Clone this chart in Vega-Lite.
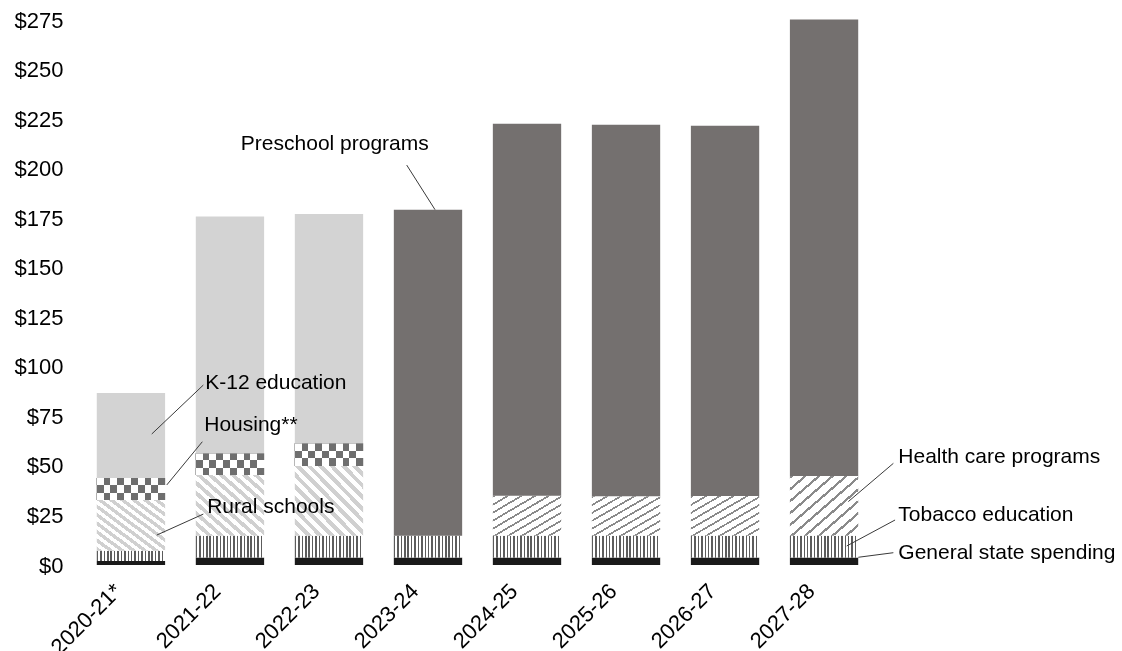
{
  "$schema": "https://vega.github.io/schema/vega-lite/v6.json",
  "width": 805,
  "height": 545,
  "autosize": "none",
  "padding": {"left": 75, "top": 20, "right": 242, "bottom": 86},
  "background": "white",
  "config": {
    "view": {"stroke": null},
    "axis": {
      "domain": false,
      "ticks": false,
      "grid": false,
      "labelFont": "Liberation Sans",
      "labelFontSize": 22,
      "labelColor": "#000000"
    }
  },
  "datasets": {
    "order": [
      {"category": "General state spending", "rank": 1},
      {"category": "Tobacco education", "rank": 2},
      {"category": "Rural schools", "rank": 3},
      {"category": "Health care programs", "rank": 4},
      {"category": "Housing", "rank": 5},
      {"category": "K-12 education", "rank": 6},
      {"category": "Preschool programs", "rank": 7}
    ]
  },
  "layer": [
    {
      "data": {
        "values": [
          {"year": "2020-21*", "category": "General state spending", "value": 2.0},
          {"year": "2020-21*", "category": "Tobacco education", "value": 5.2},
          {"year": "2020-21*", "category": "Rural schools", "value": 25.6},
          {"year": "2020-21*", "category": "Housing", "value": 11.1},
          {"year": "2020-21*", "category": "K-12 education", "value": 42.9},
          {"year": "2021-22", "category": "General state spending", "value": 3.8},
          {"year": "2021-22", "category": "Tobacco education", "value": 11.0},
          {"year": "2021-22", "category": "Rural schools", "value": 30.6},
          {"year": "2021-22", "category": "Housing", "value": 11.0},
          {"year": "2021-22", "category": "K-12 education", "value": 119.4},
          {"year": "2022-23", "category": "General state spending", "value": 3.8},
          {"year": "2022-23", "category": "Tobacco education", "value": 11.0},
          {"year": "2022-23", "category": "Rural schools", "value": 35.2},
          {"year": "2022-23", "category": "Housing", "value": 11.4},
          {"year": "2022-23", "category": "K-12 education", "value": 115.7},
          {"year": "2023-24", "category": "General state spending", "value": 3.8},
          {"year": "2023-24", "category": "Tobacco education", "value": 11.0},
          {"year": "2023-24", "category": "Preschool programs", "value": 164.5},
          {"year": "2024-25", "category": "General state spending", "value": 3.8},
          {"year": "2024-25", "category": "Tobacco education", "value": 11.0},
          {"year": "2024-25", "category": "Health care programs", "value": 20.2},
          {"year": "2024-25", "category": "Preschool programs", "value": 187.7},
          {"year": "2025-26", "category": "General state spending", "value": 3.8},
          {"year": "2025-26", "category": "Tobacco education", "value": 11.0},
          {"year": "2025-26", "category": "Health care programs", "value": 19.9},
          {"year": "2025-26", "category": "Preschool programs", "value": 187.5},
          {"year": "2026-27", "category": "General state spending", "value": 3.8},
          {"year": "2026-27", "category": "Tobacco education", "value": 11.0},
          {"year": "2026-27", "category": "Health care programs", "value": 20.0},
          {"year": "2026-27", "category": "Preschool programs", "value": 186.9},
          {"year": "2027-28", "category": "General state spending", "value": 3.8},
          {"year": "2027-28", "category": "Tobacco education", "value": 11.0},
          {"year": "2027-28", "category": "Health care programs", "value": 30.1},
          {"year": "2027-28", "category": "Preschool programs", "value": 230.3}
        ]
      },
      "transform": [
        {"lookup": "category", "from": {"data": {"name": "order"}, "key": "category", "fields": ["rank"]}},
        {"stack": "value", "groupby": ["year"], "sort": [{"field": "rank", "order": "ascending"}], "as": ["v0", "v1"]}
      ],
      "encoding": {
        "x": {
          "field": "year",
          "type": "nominal",
          "sort": null,
          "title": null,
          "scale": {
            "domain": ["2020-21*", "2021-22", "2022-23", "2023-24", "2024-25", "2025-26", "2026-27", "2027-28"],
            "paddingInner": 0.31,
            "paddingOuter": 0.22
          },
          "axis": {"labelAngle": -45, "labelPadding": 15, "labelOffset": -20}
        },
        "y": {
          "field": "v1",
          "type": "quantitative",
          "title": null,
          "scale": {"domain": [0, 275], "nice": false, "zero": true},
          "axis": {"values": [0, 25, 50, 75, 100, 125, 150, 175, 200, 225, 250, 275], "format": "$.0f", "labelPadding": 12}
        },
        "y2": {"field": "v0"}
      },
      "layer": [
        {
          "transform": [{"filter": {"field": "category", "equal": "General state spending"}}],
          "mark": {"type": "bar", "color": "#1a1a1a"}
        },
        {
          "transform": [{"filter": {"field": "category", "equal": "Tobacco education"}}],
          "mark": {
            "type": "bar",
            "color": {
              "gradient": "linear", "x1": 0, "y1": 0, "x2": 1, "y2": 0,
              "stops": [
                {"offset": 0, "color": "#5c5c5c"}, {"offset": 0.022, "color": "#5c5c5c"}, {"offset": 0.022, "color": "#ffffff"}, {"offset": 0.05, "color": "#ffffff"},
                {"offset": 0.05, "color": "#5c5c5c"}, {"offset": 0.072, "color": "#5c5c5c"}, {"offset": 0.072, "color": "#ffffff"}, {"offset": 0.1, "color": "#ffffff"},
                {"offset": 0.1, "color": "#5c5c5c"}, {"offset": 0.122, "color": "#5c5c5c"}, {"offset": 0.122, "color": "#ffffff"}, {"offset": 0.15, "color": "#ffffff"},
                {"offset": 0.15, "color": "#5c5c5c"}, {"offset": 0.172, "color": "#5c5c5c"}, {"offset": 0.172, "color": "#ffffff"}, {"offset": 0.2, "color": "#ffffff"},
                {"offset": 0.2, "color": "#5c5c5c"}, {"offset": 0.222, "color": "#5c5c5c"}, {"offset": 0.222, "color": "#ffffff"}, {"offset": 0.25, "color": "#ffffff"},
                {"offset": 0.25, "color": "#5c5c5c"}, {"offset": 0.272, "color": "#5c5c5c"}, {"offset": 0.272, "color": "#ffffff"}, {"offset": 0.3, "color": "#ffffff"},
                {"offset": 0.3, "color": "#5c5c5c"}, {"offset": 0.322, "color": "#5c5c5c"}, {"offset": 0.322, "color": "#ffffff"}, {"offset": 0.35, "color": "#ffffff"},
                {"offset": 0.35, "color": "#5c5c5c"}, {"offset": 0.372, "color": "#5c5c5c"}, {"offset": 0.372, "color": "#ffffff"}, {"offset": 0.4, "color": "#ffffff"},
                {"offset": 0.4, "color": "#5c5c5c"}, {"offset": 0.422, "color": "#5c5c5c"}, {"offset": 0.422, "color": "#ffffff"}, {"offset": 0.45, "color": "#ffffff"},
                {"offset": 0.45, "color": "#5c5c5c"}, {"offset": 0.472, "color": "#5c5c5c"}, {"offset": 0.472, "color": "#ffffff"}, {"offset": 0.5, "color": "#ffffff"},
                {"offset": 0.5, "color": "#5c5c5c"}, {"offset": 0.522, "color": "#5c5c5c"}, {"offset": 0.522, "color": "#ffffff"}, {"offset": 0.55, "color": "#ffffff"},
                {"offset": 0.55, "color": "#5c5c5c"}, {"offset": 0.572, "color": "#5c5c5c"}, {"offset": 0.572, "color": "#ffffff"}, {"offset": 0.6, "color": "#ffffff"},
                {"offset": 0.6, "color": "#5c5c5c"}, {"offset": 0.622, "color": "#5c5c5c"}, {"offset": 0.622, "color": "#ffffff"}, {"offset": 0.65, "color": "#ffffff"},
                {"offset": 0.65, "color": "#5c5c5c"}, {"offset": 0.672, "color": "#5c5c5c"}, {"offset": 0.672, "color": "#ffffff"}, {"offset": 0.7, "color": "#ffffff"},
                {"offset": 0.7, "color": "#5c5c5c"}, {"offset": 0.722, "color": "#5c5c5c"}, {"offset": 0.722, "color": "#ffffff"}, {"offset": 0.75, "color": "#ffffff"},
                {"offset": 0.75, "color": "#5c5c5c"}, {"offset": 0.772, "color": "#5c5c5c"}, {"offset": 0.772, "color": "#ffffff"}, {"offset": 0.8, "color": "#ffffff"},
                {"offset": 0.8, "color": "#5c5c5c"}, {"offset": 0.822, "color": "#5c5c5c"}, {"offset": 0.822, "color": "#ffffff"}, {"offset": 0.85, "color": "#ffffff"},
                {"offset": 0.85, "color": "#5c5c5c"}, {"offset": 0.872, "color": "#5c5c5c"}, {"offset": 0.872, "color": "#ffffff"}, {"offset": 0.9, "color": "#ffffff"},
                {"offset": 0.9, "color": "#5c5c5c"}, {"offset": 0.922, "color": "#5c5c5c"}, {"offset": 0.922, "color": "#ffffff"}, {"offset": 0.95, "color": "#ffffff"},
                {"offset": 0.95, "color": "#5c5c5c"}, {"offset": 0.972, "color": "#5c5c5c"}, {"offset": 0.972, "color": "#ffffff"}, {"offset": 1, "color": "#ffffff"}
              ]
            }
          }
        },
        {
          "transform": [{"filter": {"field": "category", "equal": "Rural schools"}}],
          "mark": {
            "type": "bar",
            "color": {
              "gradient": "linear", "x1": 0, "y1": 1, "x2": 1, "y2": 0,
              "stops": [
                {"offset": 0, "color": "#d0d0d0"}, {"offset": 0.0417, "color": "#d0d0d0"}, {"offset": 0.0417, "color": "#ffffff"}, {"offset": 0.0833, "color": "#ffffff"},
                {"offset": 0.0833, "color": "#d0d0d0"}, {"offset": 0.125, "color": "#d0d0d0"}, {"offset": 0.125, "color": "#ffffff"}, {"offset": 0.1667, "color": "#ffffff"},
                {"offset": 0.1667, "color": "#d0d0d0"}, {"offset": 0.2083, "color": "#d0d0d0"}, {"offset": 0.2083, "color": "#ffffff"}, {"offset": 0.25, "color": "#ffffff"},
                {"offset": 0.25, "color": "#d0d0d0"}, {"offset": 0.2917, "color": "#d0d0d0"}, {"offset": 0.2917, "color": "#ffffff"}, {"offset": 0.3333, "color": "#ffffff"},
                {"offset": 0.3333, "color": "#d0d0d0"}, {"offset": 0.375, "color": "#d0d0d0"}, {"offset": 0.375, "color": "#ffffff"}, {"offset": 0.4167, "color": "#ffffff"},
                {"offset": 0.4167, "color": "#d0d0d0"}, {"offset": 0.4583, "color": "#d0d0d0"}, {"offset": 0.4583, "color": "#ffffff"}, {"offset": 0.5, "color": "#ffffff"},
                {"offset": 0.5, "color": "#d0d0d0"}, {"offset": 0.5417, "color": "#d0d0d0"}, {"offset": 0.5417, "color": "#ffffff"}, {"offset": 0.5833, "color": "#ffffff"},
                {"offset": 0.5833, "color": "#d0d0d0"}, {"offset": 0.625, "color": "#d0d0d0"}, {"offset": 0.625, "color": "#ffffff"}, {"offset": 0.6667, "color": "#ffffff"},
                {"offset": 0.6667, "color": "#d0d0d0"}, {"offset": 0.7083, "color": "#d0d0d0"}, {"offset": 0.7083, "color": "#ffffff"}, {"offset": 0.75, "color": "#ffffff"},
                {"offset": 0.75, "color": "#d0d0d0"}, {"offset": 0.7917, "color": "#d0d0d0"}, {"offset": 0.7917, "color": "#ffffff"}, {"offset": 0.8333, "color": "#ffffff"},
                {"offset": 0.8333, "color": "#d0d0d0"}, {"offset": 0.875, "color": "#d0d0d0"}, {"offset": 0.875, "color": "#ffffff"}, {"offset": 0.9167, "color": "#ffffff"},
                {"offset": 0.9167, "color": "#d0d0d0"}, {"offset": 0.9583, "color": "#d0d0d0"}, {"offset": 0.9583, "color": "#ffffff"}, {"offset": 1, "color": "#ffffff"}
              ]
            }
          }
        },
        {
          "transform": [{"filter": {"field": "category", "equal": "Health care programs"}}],
          "mark": {
            "type": "bar",
            "color": {
              "gradient": "linear", "x1": 0, "y1": 0, "x2": 1, "y2": 1,
              "stops": [
                {"offset": 0, "color": "#8a8a8a"}, {"offset": 0.025, "color": "#8a8a8a"}, {"offset": 0.025, "color": "#ffffff"}, {"offset": 0.1, "color": "#ffffff"},
                {"offset": 0.1, "color": "#8a8a8a"}, {"offset": 0.125, "color": "#8a8a8a"}, {"offset": 0.125, "color": "#ffffff"}, {"offset": 0.2, "color": "#ffffff"},
                {"offset": 0.2, "color": "#8a8a8a"}, {"offset": 0.225, "color": "#8a8a8a"}, {"offset": 0.225, "color": "#ffffff"}, {"offset": 0.3, "color": "#ffffff"},
                {"offset": 0.3, "color": "#8a8a8a"}, {"offset": 0.325, "color": "#8a8a8a"}, {"offset": 0.325, "color": "#ffffff"}, {"offset": 0.4, "color": "#ffffff"},
                {"offset": 0.4, "color": "#8a8a8a"}, {"offset": 0.425, "color": "#8a8a8a"}, {"offset": 0.425, "color": "#ffffff"}, {"offset": 0.5, "color": "#ffffff"},
                {"offset": 0.5, "color": "#8a8a8a"}, {"offset": 0.525, "color": "#8a8a8a"}, {"offset": 0.525, "color": "#ffffff"}, {"offset": 0.6, "color": "#ffffff"},
                {"offset": 0.6, "color": "#8a8a8a"}, {"offset": 0.625, "color": "#8a8a8a"}, {"offset": 0.625, "color": "#ffffff"}, {"offset": 0.7, "color": "#ffffff"},
                {"offset": 0.7, "color": "#8a8a8a"}, {"offset": 0.725, "color": "#8a8a8a"}, {"offset": 0.725, "color": "#ffffff"}, {"offset": 0.8, "color": "#ffffff"},
                {"offset": 0.8, "color": "#8a8a8a"}, {"offset": 0.825, "color": "#8a8a8a"}, {"offset": 0.825, "color": "#ffffff"}, {"offset": 0.9, "color": "#ffffff"},
                {"offset": 0.9, "color": "#8a8a8a"}, {"offset": 0.925, "color": "#8a8a8a"}, {"offset": 0.925, "color": "#ffffff"}, {"offset": 1, "color": "#ffffff"}
              ]
            }
          }
        },
        {
          "transform": [{"filter": {"field": "category", "equal": "Housing"}}],
          "mark": {
            "type": "bar",
            "color": {
              "gradient": "linear", "x1": 0, "y1": 0, "x2": 1, "y2": 0,
              "stops": [
                {"offset": 0, "color": "#000000"}, {"offset": 0.1, "color": "#000000"}, {"offset": 0.1, "color": "#ffffff"}, {"offset": 0.2, "color": "#ffffff"},
                {"offset": 0.2, "color": "#000000"}, {"offset": 0.3, "color": "#000000"}, {"offset": 0.3, "color": "#ffffff"}, {"offset": 0.4, "color": "#ffffff"},
                {"offset": 0.4, "color": "#000000"}, {"offset": 0.5, "color": "#000000"}, {"offset": 0.5, "color": "#ffffff"}, {"offset": 0.6, "color": "#ffffff"},
                {"offset": 0.6, "color": "#000000"}, {"offset": 0.7, "color": "#000000"}, {"offset": 0.7, "color": "#ffffff"}, {"offset": 0.8, "color": "#ffffff"},
                {"offset": 0.8, "color": "#000000"}, {"offset": 0.9, "color": "#000000"}, {"offset": 0.9, "color": "#ffffff"}, {"offset": 1, "color": "#ffffff"}
              ]
            }
          }
        },
        {
          "transform": [{"filter": {"field": "category", "equal": "Housing"}}],
          "mark": {
            "type": "bar",
            "blend": "difference",
            "color": {
              "gradient": "linear", "x1": 0, "y1": 0, "x2": 0, "y2": 1,
              "stops": [
                {"offset": 0, "color": "#ffffff"}, {"offset": 0.3333, "color": "#ffffff"}, {"offset": 0.3333, "color": "#000000"},
                {"offset": 0.6667, "color": "#000000"}, {"offset": 0.6667, "color": "#ffffff"}, {"offset": 1, "color": "#ffffff"}
              ]
            }
          }
        },
        {
          "transform": [{"filter": {"field": "category", "equal": "Housing"}}],
          "mark": {"type": "bar", "color": "#ffffff", "opacity": 0.43}
        },
        {
          "transform": [{"filter": {"field": "category", "equal": "K-12 education"}}],
          "mark": {"type": "bar", "color": "#d3d3d3"}
        },
        {
          "transform": [{"filter": {"field": "category", "equal": "Preschool programs"}}],
          "mark": {"type": "bar", "color": "#74706f"}
        }
      ]
    },
    {
      "data": {
        "values": [
          {"label": "Preschool programs", "tx": 1.11, "ty": 212.4, "lx1": 2.785, "ly1": 201.8, "lx2": 3.071, "ly2": 179.3},
          {"label": "K-12 education", "tx": 0.75, "ty": 91.8, "lx1": 0.731, "ly1": 90.8, "lx2": 0.21, "ly2": 66.1},
          {"label": "Housing**", "tx": 0.74, "ty": 70.6, "lx1": 0.721, "ly1": 62.2, "lx2": 0.362, "ly2": 40.4},
          {"label": "Rural schools", "tx": 0.77, "ty": 29.3, "lx1": 0.731, "ly1": 25.7, "lx2": 0.261, "ly2": 15.1},
          {"label": "Health care programs", "tx": 7.75, "ty": 54.5, "lx1": 7.7, "ly1": 51.3, "lx2": 7.245, "ly2": 32.0},
          {"label": "Tobacco education", "tx": 7.75, "ty": 25.2, "lx1": 7.717, "ly1": 22.7, "lx2": 7.229, "ly2": 9.6},
          {"label": "General state spending", "tx": 7.75, "ty": 6.1, "lx1": 7.7, "ly1": 6.2, "lx2": 7.346, "ly2": 3.9}
        ]
      },
      "layer": [
        {
          "mark": {"type": "rule", "color": "#3a3a3a", "strokeWidth": 1},
          "encoding": {
            "x": {"field": "lx1", "type": "quantitative", "scale": {"domain": [-0.565, 7.565], "nice": false, "zero": false}, "axis": null},
            "x2": {"field": "lx2"},
            "y": {"field": "ly1", "type": "quantitative", "title": null, "scale": {"domain": [0, 275], "nice": false, "zero": true}, "axis": {"values": [0, 25, 50, 75, 100, 125, 150, 175, 200, 225, 250, 275], "format": "$.0f", "labelPadding": 12}},
            "y2": {"field": "ly2"}
          }
        },
        {
          "mark": {"type": "text", "align": "left", "baseline": "middle", "font": "Liberation Sans", "fontSize": 21, "color": "#000000"},
          "encoding": {
            "x": {"field": "tx", "type": "quantitative", "scale": {"domain": [-0.565, 7.565], "nice": false, "zero": false}, "axis": null},
            "y": {"field": "ty", "type": "quantitative", "title": null, "scale": {"domain": [0, 275], "nice": false, "zero": true}, "axis": {"values": [0, 25, 50, 75, 100, 125, 150, 175, 200, 225, 250, 275], "format": "$.0f", "labelPadding": 12}},
            "text": {"field": "label", "type": "nominal"}
          }
        }
      ]
    }
  ],
  "resolve": {"scale": {"x": "independent"}}
}
